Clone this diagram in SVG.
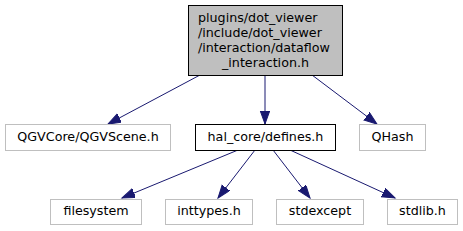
<svg xmlns="http://www.w3.org/2000/svg" width="463" height="231" viewBox="0 0 463 231">
<style>
text{font-family:"DejaVu Sans",sans-serif;font-size:12.7px;fill:#000}
.g{fill:#fff;stroke:#bfbfbf;stroke-width:1}
.b{fill:#fff;stroke:#000;stroke-width:1}
.e{stroke:#191970;stroke-width:1;fill:none;marker-end:url(#a)}
</style>
<defs>
<marker id="a" markerUnits="userSpaceOnUse" markerWidth="16" markerHeight="12" refX="13" refY="4.7" orient="auto">
<polygon points="0,0 13,4.7 0,9.4" fill="#191970" stroke="#191970"/>
</marker>
</defs>
<rect width="463" height="231" fill="#fff"/>
<g id="edges">
<line class="e" x1="200" y1="75" x2="108" y2="124"/>
<line class="e" x1="265" y1="75" x2="265" y2="124"/>
<line class="e" x1="312" y1="75" x2="377" y2="124"/>
<line class="e" x1="238" y1="150" x2="122" y2="198"/>
<line class="e" x1="255" y1="150" x2="218" y2="198"/>
<line class="e" x1="273" y1="150" x2="310" y2="198"/>
<line class="e" x1="290" y1="150" x2="395" y2="198"/>
</g>
<g id="main">
<rect x="188.5" y="5.5" width="154" height="70" fill="#bfbfbf" stroke="#000"/>
<text x="198" y="22">plugins/dot_viewer</text>
<text x="198" y="37">/include/dot_viewer</text>
<text x="198" y="52">/interaction/dataflow</text>
<text x="265.5" y="67" text-anchor="middle">_interaction.h</text>
</g>
<g id="qgvscene">
<rect class="g" x="5.5" y="124.5" width="165" height="26"/>
<text x="88" y="141" text-anchor="middle">QGVCore/QGVScene.h</text>
</g>
<g id="defines">
<rect class="b" x="195.5" y="124.5" width="140" height="26"/>
<text x="265.5" y="141" text-anchor="middle">hal_core/defines.h</text>
</g>
<g id="qhash">
<rect class="g" x="359.5" y="124.5" width="66" height="26"/>
<text x="392.5" y="141" text-anchor="middle">QHash</text>
</g>
<g id="filesystem">
<rect class="g" x="50.5" y="199.5" width="91" height="25"/>
<text x="96" y="215" text-anchor="middle">filesystem</text>
</g>
<g id="inttypes">
<rect class="g" x="165.5" y="199.5" width="87" height="25"/>
<text x="209" y="215" text-anchor="middle">inttypes.h</text>
</g>
<g id="stdexcept">
<rect class="g" x="276.5" y="199.5" width="87" height="25"/>
<text x="320" y="215" text-anchor="middle">stdexcept</text>
</g>
<g id="stdlib">
<rect class="g" x="387.5" y="199.5" width="70" height="25"/>
<text x="422.5" y="215" text-anchor="middle">stdlib.h</text>
</g>
</svg>
